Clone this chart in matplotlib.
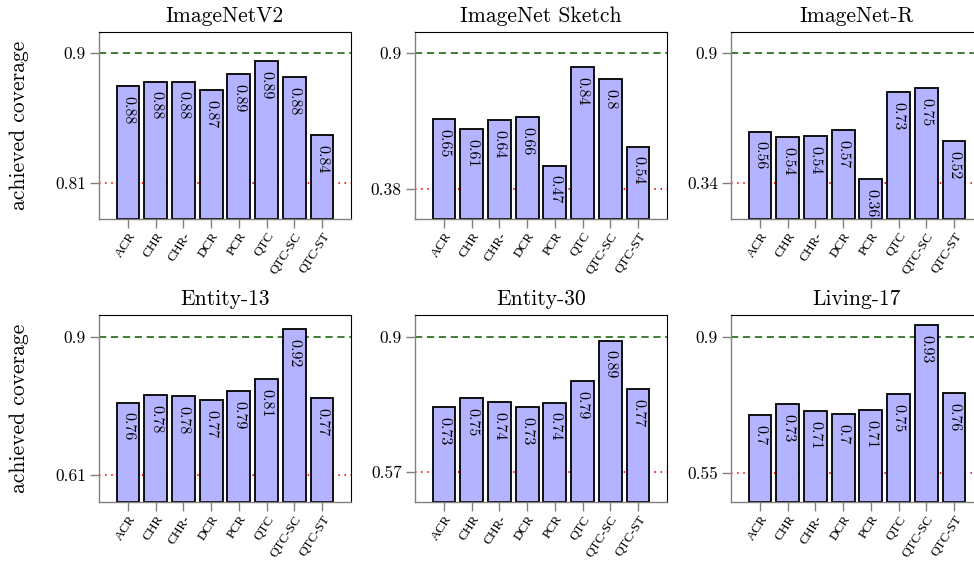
import matplotlib
matplotlib.use("Agg")
import matplotlib.pyplot as plt
import numpy as np

plt.rcParams['font.family'] = ['cmr10', 'DejaVu Serif']
plt.rcParams['axes.formatter.use_mathtext'] = True

methods = ['ACR', 'CHR', 'CHR-', 'DCR', 'PCR', 'QTC', 'QTC-SC', 'QTC-ST']
titles = ['ImageNetV2', 'ImageNet Sketch', 'ImageNet-R',
          'Entity-13', 'Entity-30', 'Living-17']

# achieved coverage per method
imagenet_v2 = [0.877, 0.880, 0.880, 0.874, 0.885, 0.894, 0.883, 0.843]
imagenet_sketch = [0.648, 0.608, 0.643, 0.656, 0.470, 0.844, 0.799, 0.542]
imagenet_r = [0.560, 0.535, 0.541, 0.567, 0.356, 0.729, 0.748, 0.518]
entity_13 = [0.762, 0.777, 0.776, 0.767, 0.786, 0.811, 0.916, 0.771]
entity_30 = [0.727, 0.749, 0.740, 0.727, 0.739, 0.791, 0.890, 0.771]
living_17 = [0.699, 0.727, 0.709, 0.701, 0.712, 0.752, 0.930, 0.756]

# lower reference (red dotted) and target (green dashed)
lower_ref = [0.81, 0.38, 0.34, 0.61, 0.57, 0.55]
target = 0.9

# y range of each panel
ylims = [(0.785, 0.9145), (0.267, 0.980), (0.1835, 0.9905),
         (0.5528, 0.9455), (0.495, 0.953), (0.4756, 0.9556)]

data = [imagenet_v2, imagenet_sketch, imagenet_r, entity_13, entity_30, living_17]


def fmt(v):
    s = '%.2f' % v
    return s.rstrip('0').rstrip('.') if '.' in s else s


fig = plt.figure(figsize=(9.74, 5.61), dpi=100)
W, H = 974.0, 561.0
lefts = [99, 415, 731]
tops = [31.7, 315]
aw, ah = 252, 187.3

x = np.arange(len(methods))
for k in range(6):
    r, c = divmod(k, 3)
    ax = fig.add_axes([lefts[c] / W, 1 - (tops[r] + ah) / H, aw / W, ah / H])
    vals = data[k]
    lo, hi = ylims[k]
    ax.set_xlim(-1.05, len(methods) - 1 + 1.05)
    ax.set_ylim(lo, hi)
    ax.axhline(target, color='#2f7424', lw=1.3, ls=(0, (4, 2.6)), zorder=1)
    ax.axhline(lower_ref[k], color='red', lw=1.3, ls=(0, (0.8, 2.6)), zorder=1)
    ax.bar(x, np.array(vals) - lo, bottom=lo, width=0.82, color='#b3b3ff',
           edgecolor='black', linewidth=1.3, zorder=2)
    for xi, v in zip(x, vals):
        ax.annotate(fmt(v), (xi, v), xytext=(0, -7), textcoords='offset points',
                    rotation=-90, ha='center', va='top', fontsize=11.5,
                    zorder=3, annotation_clip=False, clip_on=True)
    ax.set_yticks([lower_ref[k], target])
    ax.set_yticklabels([fmt(lower_ref[k]), fmt(target)], fontsize=12.5)
    ax.set_xticks(x)
    ax.set_xticklabels(methods, rotation=57, ha='right', rotation_mode='anchor',
                       fontsize=9.5, family='Liberation Serif')
    ax.tick_params(axis='both', direction='out', length=6.5, width=1.0,
                   color='#808080', pad=3)
    ax.tick_params(axis='x', pad=1.5)
    for s in ['left', 'bottom']:
        ax.spines[s].set_color('#808080')
        ax.spines[s].set_linewidth(1.0)
    for s in ['top', 'right']:
        ax.spines[s].set_color('black')
        ax.spines[s].set_linewidth(0.8)
    ax.set_title(titles[k], fontsize=15.5, pad=7)
    if c == 0:
        fig.text(19 / W, 1 - (tops[r] + ah / 2) / H, 'achieved coverage',
                 rotation=90, ha='center', va='center', fontsize=15.5)

fig.savefig('out.png', dpi=100)
